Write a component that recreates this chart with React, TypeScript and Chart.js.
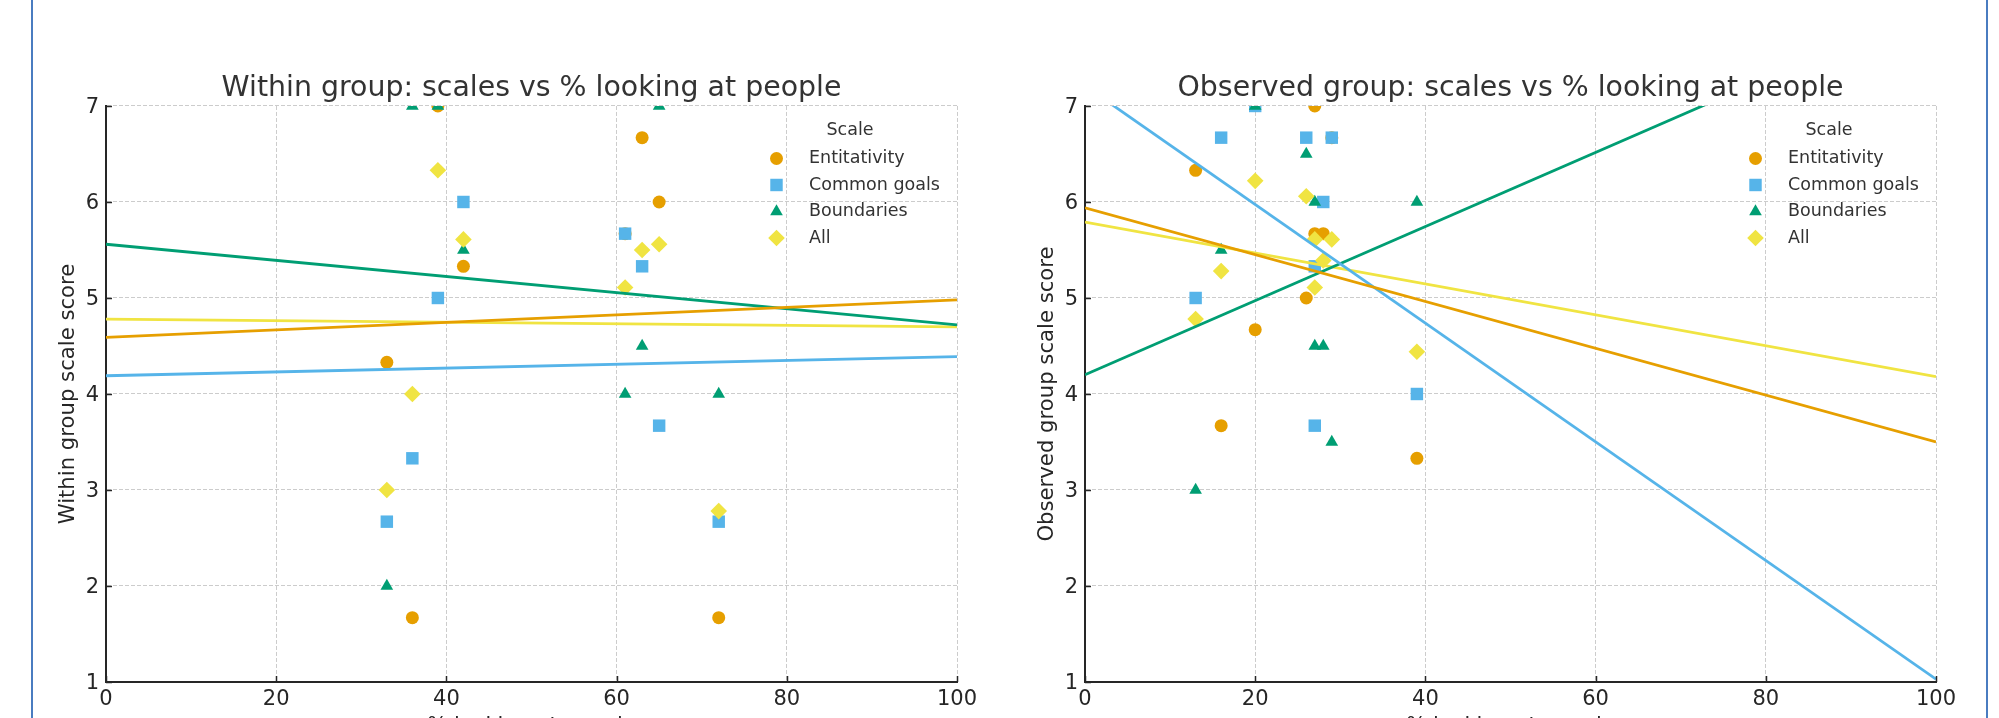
import React, { useEffect, useRef } from 'react';
import { Chart, registerables } from 'chart.js';

Chart.register(...registerables);

// Scale names, colours and marker shapes shared by both panels
const SCALE_NAMES = ['Entitativity', 'Common goals', 'Boundaries', 'All'];
const SCALE_COLORS = ['#E69F00', '#56B4E9', '#009E73', '#F0E442'];
const SCALE_MARKERS = ['circle', 'rect', 'triangle', 'rectRot'];
const MARKER_RADII = [6.5, 8.8, 7.3, 8.3];

const X_TICKS = [0, 20, 40, 60, 80, 100];
const Y_TICKS = [1, 2, 3, 4, 5, 6, 7];
const X_TITLE = '% looking at people';

// Within group: % looking at people and scale scores per group
const withinPct = [33, 36, 39, 42, 61, 63, 65, 72];
const withinEntitativity = [4.33, 1.67, 7, 5.33, 5.67, 6.67, 6, 1.67];
const withinCommonGoals = [2.67, 3.33, 5, 6, 5.67, 5.33, 3.67, 2.67];
const withinBoundaries = [2, 7, 7, 5.5, 4, 4.5, 7, 4];
const withinAll = [3, 4, 6.33, 5.61, 5.11, 5.5, 5.56, 2.78];
// Fitted trend values at x = 0 and x = 100
const withinTrendEntitativity = [4.59, 4.98];
const withinTrendCommonGoals = [4.19, 4.39];
const withinTrendBoundaries = [5.56, 4.72];
const withinTrendAll = [4.78, 4.70];

// Observed group
const observedPct = [13, 16, 20, 26, 27, 27, 28, 29, 39];
const observedEntitativity = [6.33, 3.67, 4.67, 5, 7, 5.67, 5.67, 6.67, 3.33];
const observedCommonGoals = [5, 6.67, 7, 6.67, 5.33, 3.67, 6, 6.67, 4];
const observedBoundaries = [3, 5.5, 7, 6.5, 4.5, 6, 4.5, 3.5, 6];
const observedAll = [4.78, 5.28, 6.22, 6.06, 5.61, 5.11, 5.39, 5.61, 4.44];
const observedTrendEntitativity = [5.94, 3.5];
const observedTrendCommonGoals = [7.21, 1.03];
const observedTrendBoundaries = [4.2, 8.06];
const observedTrendAll = [5.79, 4.18];

const TREND_X = [0, 100];

const FONT = '"DejaVu Sans", "Noto Sans", sans-serif';
const AXIS_COLOR = '#262626';
const TEXT_COLOR = '#333333';

function drawMarker(ctx: CanvasRenderingContext2D, style: string, x: number, y: number, r: number, color: string) {
  ctx.beginPath();
  if (style === 'circle') {
    ctx.arc(x, y, r, 0, Math.PI * 2);
  } else if (style === 'rect') {
    const s = Math.SQRT1_2 * r;
    ctx.rect(x - s, y - s, 2 * s, 2 * s);
  } else if (style === 'triangle') {
    const e = (3 * r) / Math.sqrt(3);
    const h = (e * Math.sqrt(3)) / 2;
    ctx.moveTo(x - e / 2, y + h / 3);
    ctx.lineTo(x + e / 2, y + h / 3);
    ctx.lineTo(x, y - (2 * h) / 3);
    ctx.closePath();
  } else {
    ctx.moveTo(x - r, y);
    ctx.lineTo(x, y - r);
    ctx.lineTo(x + r, y);
    ctx.lineTo(x, y + r);
    ctx.closePath();
  }
  ctx.fillStyle = color;
  ctx.fill();
}

// Legend drawn inside the upper-right corner of the plot area
const scaleLegend = {
  id: 'scaleLegend',
  afterDraw(chart: any) {
    const { ctx, chartArea } = chart;
    const markerX = chartArea.right - 180.5;
    const textX = chartArea.right - 148;
    const titleX = chartArea.right - 107;
    ctx.save();
    ctx.font = `17.5px ${FONT}`;
    ctx.fillStyle = TEXT_COLOR;
    ctx.textBaseline = 'middle';
    ctx.textAlign = 'center';
    ctx.fillText('Scale', titleX, chartArea.top + 24.5);
    ctx.textAlign = 'left';
    SCALE_NAMES.forEach((name, i) => {
      const y = chartArea.top + 52.5 + i * 26.5;
      drawMarker(ctx, SCALE_MARKERS[i], markerX, y, MARKER_RADII[i], SCALE_COLORS[i]);
      ctx.fillStyle = TEXT_COLOR;
      ctx.fillText(name, textX, y);
    });
    ctx.restore();
  },
};

// Short tick marks pointing into the plot area
const inwardTicks = {
  id: 'inwardTicks',
  afterDraw(chart: any) {
    const { ctx, chartArea, scales } = chart;
    const len = 6;
    ctx.save();
    ctx.strokeStyle = AXIS_COLOR;
    ctx.lineWidth = 1.5;
    ctx.beginPath();
    X_TICKS.forEach((v) => {
      const px = Math.round(scales.x.getPixelForValue(v)) + 0.5;
      ctx.moveTo(px, chartArea.bottom);
      ctx.lineTo(px, chartArea.bottom - len);
    });
    Y_TICKS.forEach((v) => {
      const py = Math.round(scales.y.getPixelForValue(v)) + 0.5;
      ctx.moveTo(chartArea.left, py);
      ctx.lineTo(chartArea.left + len, py);
    });
    ctx.stroke();
    ctx.restore();
  },
};

interface PanelSpec {
  title: string;
  yTitle: string;
  pct: number[];
  series: number[][];
  trends: number[][];
  yAxisWidth: number;
  rightPad: number;
  yTitlePad: number;
}

const CANVAS_H = 760;
const PLOT_BOTTOM = 682;

function buildConfig(spec: PanelSpec): any {
  const trendSets = spec.trends.map((t, i) => ({
    type: 'line',
    label: `${SCALE_NAMES[i]} trend`,
    data: TREND_X.map((x, j) => ({ x, y: t[j] })),
    borderColor: SCALE_COLORS[i],
    borderWidth: 2.8,
    pointRadius: 0,
    fill: false,
    tension: 0,
    order: 0,
  }));
  const pointSets = spec.series.map((vals, i) => ({
    type: 'scatter',
    label: SCALE_NAMES[i],
    data: spec.pct.map((x, j) => ({ x, y: vals[j] })),
    backgroundColor: SCALE_COLORS[i],
    pointBackgroundColor: SCALE_COLORS[i],
    pointBorderWidth: 0,
    pointStyle: SCALE_MARKERS[i],
    pointRadius: MARKER_RADII[i],
    order: 4 - i,
  }));

  const tickFont = { family: FONT, size: 21 };
  return {
    type: 'scatter',
    data: { datasets: [...trendSets, ...pointSets] },
    plugins: [scaleLegend, inwardTicks],
    options: {
      animation: false,
      responsive: false,
      events: [],
      layout: { padding: { left: 0, top: 0, right: spec.rightPad, bottom: 0 } },
      plugins: {
        legend: { display: false },
        tooltip: { enabled: false },
        title: {
          display: true,
          text: spec.title,
          fullSize: false,
          color: TEXT_COLOR,
          font: { family: FONT, size: 28.4, weight: 'normal', lineHeight: 1.2 },
          padding: { top: 71.9, bottom: 0 },
        },
      },
      scales: {
        x: {
          type: 'linear',
          min: 0,
          max: 100,
          afterBuildTicks: (s: any) => {
            s.ticks = X_TICKS.map((v) => ({ value: v }));
          },
          afterFit: (s: any) => {
            s.height = CANVAS_H - PLOT_BOTTOM;
          },
          grid: { color: '#cccccc', lineWidth: 1, drawTicks: false },
          border: { display: true, color: AXIS_COLOR, width: 2, dash: [4, 2] },
          ticks: { color: AXIS_COLOR, font: tickFont, padding: 4.5, maxRotation: 0 },
          title: {
            display: true,
            text: X_TITLE,
            color: AXIS_COLOR,
            font: { family: FONT, size: 21, lineHeight: 1.2 },
            padding: { top: 0, bottom: 21 },
          },
        },
        y: {
          type: 'linear',
          min: 1,
          max: 7,
          afterBuildTicks: (s: any) => {
            s.ticks = Y_TICKS.map((v) => ({ value: v }));
          },
          afterFit: (s: any) => {
            s.width = spec.yAxisWidth;
          },
          grid: { color: '#cccccc', lineWidth: 1, drawTicks: false },
          border: { display: true, color: AXIS_COLOR, width: 2, dash: [4, 2] },
          ticks: { color: AXIS_COLOR, font: tickFont, padding: 7, labelOffset: 2 },
          title: {
            display: true,
            text: spec.yTitle,
            color: AXIS_COLOR,
            font: { family: FONT, size: 21.2, lineHeight: 1.2 },
            padding: { top: spec.yTitlePad, bottom: 0 },
          },
        },
      },
    },
  };
}

const withinSpec: PanelSpec = {
  title: 'Within group: scales vs % looking at people',
  yTitle: 'Within group scale score',
  pct: withinPct,
  series: [withinEntitativity, withinCommonGoals, withinBoundaries, withinAll],
  trends: [withinTrendEntitativity, withinTrendCommonGoals, withinTrendBoundaries, withinTrendAll],
  yAxisWidth: 106,
  rightPad: 43,
  yTitlePad: 55.5,
};

const observedSpec: PanelSpec = {
  title: 'Observed group: scales vs % looking at people',
  yTitle: 'Observed group scale score',
  pct: observedPct,
  series: [observedEntitativity, observedCommonGoals, observedBoundaries, observedAll],
  trends: [observedTrendEntitativity, observedTrendCommonGoals, observedTrendBoundaries, observedTrendAll],
  yAxisWidth: 85,
  rightPad: 63,
  yTitlePad: 35,
};

function Panel({ spec, left, width }: { spec: PanelSpec; left: number; width: number }) {
  const ref = useRef<HTMLCanvasElement | null>(null);
  useEffect(() => {
    if (!ref.current) return;
    const chart = new Chart(ref.current, buildConfig(spec));
    return () => chart.destroy();
  }, [spec]);
  return (
    <canvas
      ref={ref}
      width={width}
      height={CANVAS_H}
      style={{ position: 'absolute', left, top: 0, width, height: CANVAS_H }}
    />
  );
}

export default function App() {
  return (
    <div
      style={{
        position: 'fixed',
        left: 0,
        top: 0,
        width: 1999,
        height: 718,
        overflow: 'hidden',
        background: '#ffffff',
      }}
    >
      <Panel spec={withinSpec} left={0} width={1000} />
      <Panel spec={observedSpec} left={1000} width={999} />
      <div style={{ position: 'absolute', left: 31, top: 0, width: 2, height: 718, background: '#4a7cc0' }} />
      <div style={{ position: 'absolute', left: 1986, top: 0, width: 2, height: 718, background: '#4a7cc0' }} />
    </div>
  );
}
